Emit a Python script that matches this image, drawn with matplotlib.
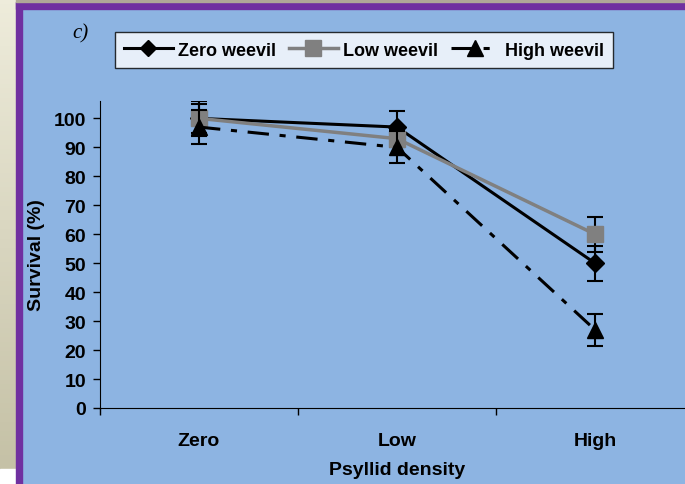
import numpy as np
import matplotlib.pyplot as plt
from matplotlib.patches import Rectangle
from matplotlib.lines import Line2D
from matplotlib.colors import LinearSegmentedColormap

plt.rcParams['font.family'] = 'Liberation Sans'

categories = ["Zero", "Low", "High"]
zero_weevil = [100, 97, 50]
zero_err = [5, 5.5, 6]
low_weevil = [100, 93, 60]
low_err = [6, 3, 6]
high_weevil = [97, 90, 27]
high_err = [6, 5.5, 5.5]

W, H = 685, 485
blue = '#8db4e2'
purple = '#7030a0'

fig = plt.figure(figsize=(W / 100, H / 100), dpi=100, facecolor=blue)

# slide frame: beige strip on the left, purple rules
bg = fig.add_axes([0, 15 / H, 16 / W, 1 - 15 / H])
grad = np.linspace(0, 1, 100).reshape(-1, 1)
bg.imshow(grad, aspect='auto', extent=[0, 1, 0, 1],
          cmap=LinearSegmentedColormap.from_list('beige', ['#eeecdb', '#c5c1a6']))
bg.set_axis_off()
fig.patches.append(Rectangle((0, 0), 16 / W, 15 / H, transform=fig.transFigure,
                             color='white', zorder=0))
fig.patches.append(Rectangle((16 / W, 0), 6 / W, 1 - 3 / H, transform=fig.transFigure,
                             color=purple, zorder=1))
fig.patches.append(Rectangle((16 / W, 1 - 10 / H), 1, 7 / H, transform=fig.transFigure,
                             color=purple, zorder=1))
fig.patches.append(Rectangle((16 / W, 1 - 3 / H), 1, 3 / H, transform=fig.transFigure,
                             color='#b0a898', zorder=1))

ax = fig.add_axes([100 / W, 76 / H, 594 / W, 307 / H])
ax.set_facecolor(blue)
x = np.arange(len(categories))

ax.errorbar(x, zero_weevil, yerr=zero_err, color='black', lw=2.2, marker='D',
            ms=9, capsize=6, ecolor='black', elinewidth=1.5, capthick=1.5,
            label='Zero weevil', zorder=3)
ax.errorbar(x, low_weevil, yerr=low_err, color='#808080', lw=2.5, marker='s',
            ms=11, capsize=6, ecolor='black', elinewidth=1.5, capthick=1.5,
            label='Low weevil', zorder=4)
ax.errorbar(x, high_weevil, yerr=high_err, color='black', lw=2.2, marker='^',
            ms=12, capsize=6, ecolor='black', elinewidth=1.5, capthick=1.5,
            dashes=[7, 3.5, 2, 3.5], label='High weevil', zorder=5)

ax.set_xlim(-0.5, 2.5)
ax.set_ylim(0, 106)
ax.set_yticks(np.arange(0, 101, 10))
ax.set_xticks([-0.5, 0.5, 1.5, 2.5])
ax.set_xticklabels([])
ax.set_xticks(x, minor=True)
ax.set_xticklabels(categories, minor=True)
ax.tick_params(axis='x', which='minor', length=0, pad=17)
ax.tick_params(axis='y', pad=5)
ax.tick_params(axis='both', which='major', length=5, width=1, direction='out')
for lbl in ax.get_xticklabels(minor=True) + ax.get_yticklabels():
    lbl.set_fontsize(14)
    lbl.set_fontweight('bold')
ax.spines['top'].set_visible(False)
ax.spines['right'].set_visible(False)
ax.set_ylabel('Survival (%)', fontsize=14, fontweight='bold', labelpad=6)
ax.set_xlabel('Psyllid density', fontsize=14, fontweight='bold', labelpad=9)

handles = [
    Line2D([], [], color='black', lw=2.2, marker='D', ms=8),
    Line2D([], [], color='#808080', lw=2.5, marker='s', ms=11),
    Line2D([], [], color='black', lw=2.2, marker='^', ms=11, dashes=[7, 3.5, 2, 3.5]),
]
leg = fig.legend(handles, ['Zero weevil', 'Low weevil', 'High weevil'], ncol=3,
                 loc='center', bbox_to_anchor=(364 / W, 1 - 51 / H),
                 prop={'weight': 'bold', 'size': 13}, frameon=True, fancybox=False,
                 edgecolor='black', handlelength=2.7, columnspacing=0.7,
                 handletextpad=0.3, borderpad=0.5)
leg.get_frame().set_linewidth(1)

fig.text(72 / W, 1 - 34 / H, 'c)', fontsize=15, style='italic',
         family='Liberation Serif', va='center')

fig.savefig('out.png', dpi=100, facecolor=blue)
